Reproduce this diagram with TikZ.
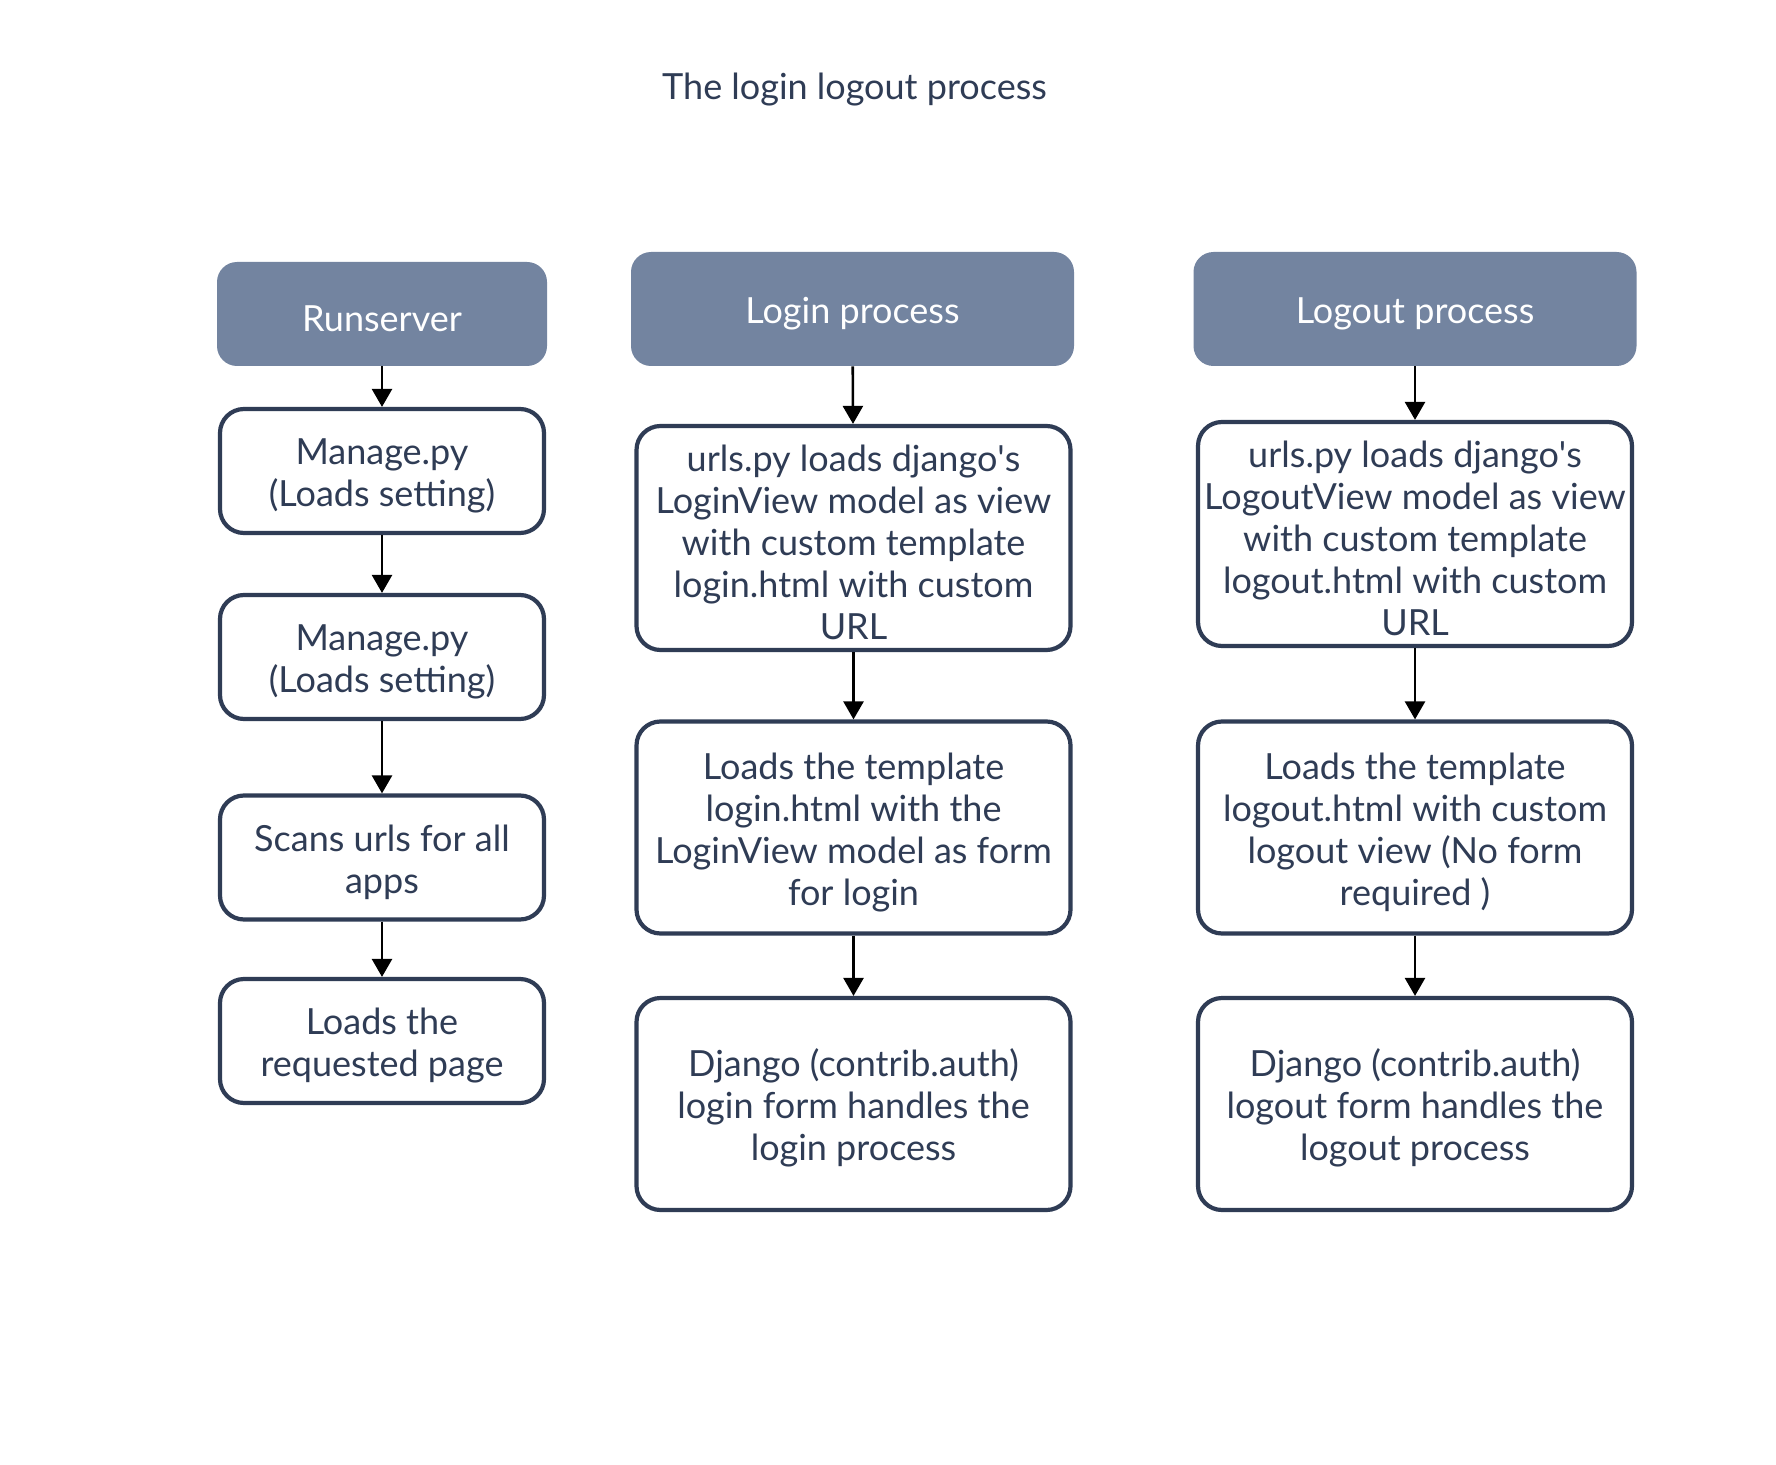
\documentclass[tikz,border=0pt]{standalone}
\usepackage{fontspec}
\setmainfont{Lato}
\usetikzlibrary{arrows.meta}

\definecolor{headfill}{HTML}{7384A0}
\definecolor{boxline}{HTML}{2F3C55}
\definecolor{textcol}{HTML}{2F3C55}

\newcommand{\topstrut}{\rule{0pt}{18pt}}

\tikzset{
	headbox/.style={rectangle, rounded corners=10pt, fill=headfill, text=white, align=center, font=\fontsize{18}{21}\selectfont},
	stepbox/.style={rectangle, rounded corners=12pt, draw=boxline, line width=2.1pt, fill=white, text=textcol, align=center, inner sep=1pt, font=\fontsize{18}{21}\selectfont},
	flow/.style={-{Triangle[length=9pt,width=10pt]}, line width=1.3pt, black}
}

\begin{document}
\begin{tikzpicture}[x=0.5pt,y=-0.5pt]
	% canvas
	\useasboundingbox[fill=white] (0,0) rectangle (1776,1465);
	% title
	\node[text=textcol, font=\fontsize{18}{21}\selectfont] (title) at (854.5,90) {The login logout process};
	% headers
	\node[headbox, minimum width=165pt, minimum height=52pt] (run) at (382,314) {\topstrut Runserver};
	\node[headbox, minimum width=221.5pt, minimum height=57pt] (login) at (852.5,309) {\topstrut Login process};
	\node[headbox, minimum width=221.5pt, minimum height=57pt] (logout) at (1415,309) {\topstrut Logout process};
	% runserver column
	\node[stepbox, minimum width=162pt, minimum height=62pt] (manA) at (382,471) {\topstrut Manage.py\\(Loads setting)};
	\node[stepbox, minimum width=162pt, minimum height=62pt] (manB) at (382,657) {\topstrut Manage.py\\(Loads setting)};
	\node[stepbox, minimum width=162pt, minimum height=62pt] (scan) at (382,857.5) {\topstrut Scans urls for all\\apps};
	\node[stepbox, minimum width=162pt, minimum height=62pt] (page) at (382,1041) {\topstrut Loads the\\requested page};
	% login column
	\node[stepbox, minimum width=217pt, minimum height=112pt] (liurls) at (853.5,538) {\topstrut urls.py loads django\textquotesingle s\\LoginView model as view\\with custom template\\login.html with custom\\URL};
	\node[stepbox, minimum width=217pt, minimum height=106pt] (litpl) at (853.5,827.5) {\topstrut Loads the template\\login.html with the\\LoginView model as form\\for login};
	\node[stepbox, minimum width=217pt, minimum height=106pt] (liauth) at (853.5,1104) {\topstrut Django (contrib.auth)\\login form handles the\\login process};
	% logout column
	\node[stepbox, minimum width=217pt, minimum height=112pt] (lourls) at (1415,534) {\topstrut urls.py loads django\textquotesingle s\\LogoutView model as view\\with custom template\\logout.html with custom\\URL};
	\node[stepbox, minimum width=217pt, minimum height=106pt] (lotpl) at (1415,827.5) {\topstrut Loads the template\\logout.html with custom\\logout view (No form\\required )};
	\node[stepbox, minimum width=217pt, minimum height=106pt] (loauth) at (1415,1104) {\topstrut Django (contrib.auth)\\logout form handles the\\logout process};
	% arrows
	\draw[flow] (run) -- (manA);
	\draw[flow] (manA) -- (manB);
	\draw[flow] (manB) -- (scan);
	\draw[flow] (scan) -- (page);
	\draw[flow] (login) -- (liurls);
	\draw[flow] (liurls) -- (litpl);
	\draw[flow] (litpl) -- (liauth);
	\draw[flow] (logout) -- (lourls);
	\draw[flow] (lourls) -- (lotpl);
	\draw[flow] (lotpl) -- (loauth);
\end{tikzpicture}
\end{document}
